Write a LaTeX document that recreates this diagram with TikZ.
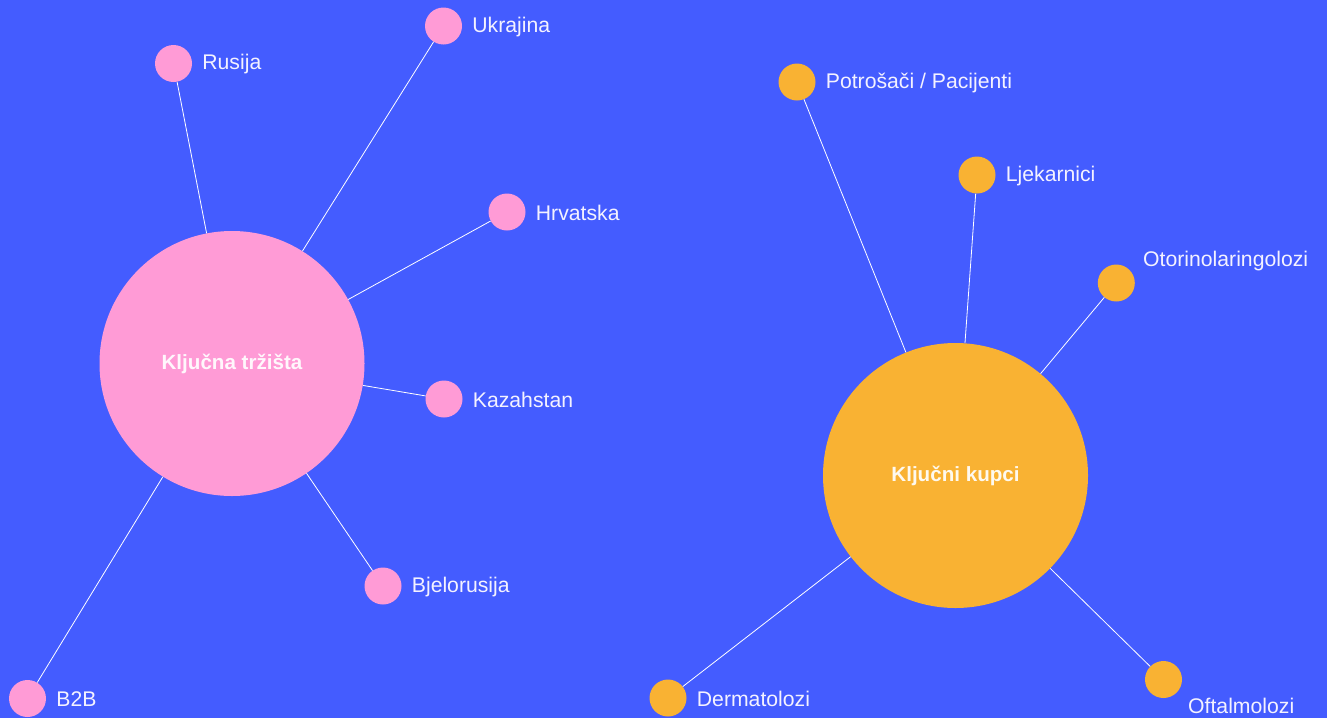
\documentclass[tikz,border=0pt]{standalone}
\usepackage{fontspec}
\setmainfont{Liberation Sans}
\usetikzlibrary{positioning}
\definecolor{bgblue}{HTML}{445CFF}
\definecolor{hubpink}{HTML}{FF9BD6}
\definecolor{huborange}{HTML}{F9B233}
\definecolor{txtwhite}{HTML}{F4F2FF}
\tikzset{
  hub/.style={circle, minimum size=265pt, inner sep=0pt, text=#1!8!white,
    font=\fontsize{20.6}{24}\selectfont\bfseries},
  leaf/.style={circle, minimum size=37pt, inner sep=0pt},
  lbl/.style={text=txtwhite, inner sep=0pt, font=\fontsize{21.2}{25}\selectfont},
  link/.style={draw=white, line width=0.8pt}
}
\begin{document}
\begin{tikzpicture}[x=1pt,y=-1pt]
  \fill[bgblue] (0,0) rectangle (1327,718);
  \useasboundingbox (0,0) rectangle (1327,718);
  % markets
  \node[hub=hubpink, fill=hubpink] (trz) at (232,363.5) {Ključna tržišta};
  \node[leaf, fill=hubpink] (rus) at (173.5,63.5) {};
  \node[leaf, fill=hubpink] (ukr) at (443.5,26) {};
  \node[leaf, fill=hubpink] (hrv) at (507,212) {};
  \node[leaf, fill=hubpink] (kaz) at (444,399) {};
  \node[leaf, fill=hubpink] (bje) at (383,586) {};
  \node[leaf, fill=hubpink] (b2b) at (27.5,698.5) {};
  \node[lbl, right=10pt of rus, yshift=-1pt] (rusl) {Rusija};
  \node[lbl, right=10pt of ukr, yshift=-1pt] (ukrl) {Ukrajina};
  \node[lbl, right=10pt of hrv, yshift=-1pt] (hrvl) {Hrvatska};
  \node[lbl, right=10pt of kaz, yshift=-1pt] (kazl) {Kazahstan};
  \node[lbl, right=10pt of bje, yshift=-1pt] (bjel) {Bjelorusija};
  \node[lbl, right=10pt of b2b, yshift=-1pt] (b2bl) {B2B};
  % buyers
  \node[hub=huborange, fill=huborange] (kup) at (955.5,475.5) {Ključni kupci};
  \node[leaf, fill=huborange] (pot) at (797,82) {};
  \node[leaf, fill=huborange] (ljk) at (977,175) {};
  \node[leaf, fill=huborange] (oto) at (1116.3,283) {};
  \node[leaf, fill=huborange] (der) at (668,698) {};
  \node[leaf, fill=huborange] (oft) at (1163.5,679.5) {};
  \node[lbl, right=10pt of pot, yshift=-1pt] (potl) {Potrošači / Pacijenti};
  \node[lbl, right=10pt of ljk, yshift=-1pt] (ljkl) {Ljekarnici};
  \node[lbl, anchor=west] (otol) at (1143,261) {Otorinolaringolozi};
  \node[lbl, right=10pt of der, yshift=-1pt] (derl) {Dermatolozi};
  \node[lbl, anchor=west] (oftl) at (1188,706) {Oftalmolozi};
  \begin{scope}[link]
    \draw (trz) -- (rus);
    \draw (trz) -- (ukr);
    \draw (trz) -- (hrv);
    \draw (trz) -- (kaz);
    \draw (trz) -- (bje);
    \draw (trz) -- (b2b);
    \draw (kup) -- (pot);
    \draw (kup) -- (ljk);
    \draw (kup) -- (oto);
    \draw (kup) -- (der);
    \draw (kup) -- (oft);
  \end{scope}
\end{tikzpicture}
\end{document}
